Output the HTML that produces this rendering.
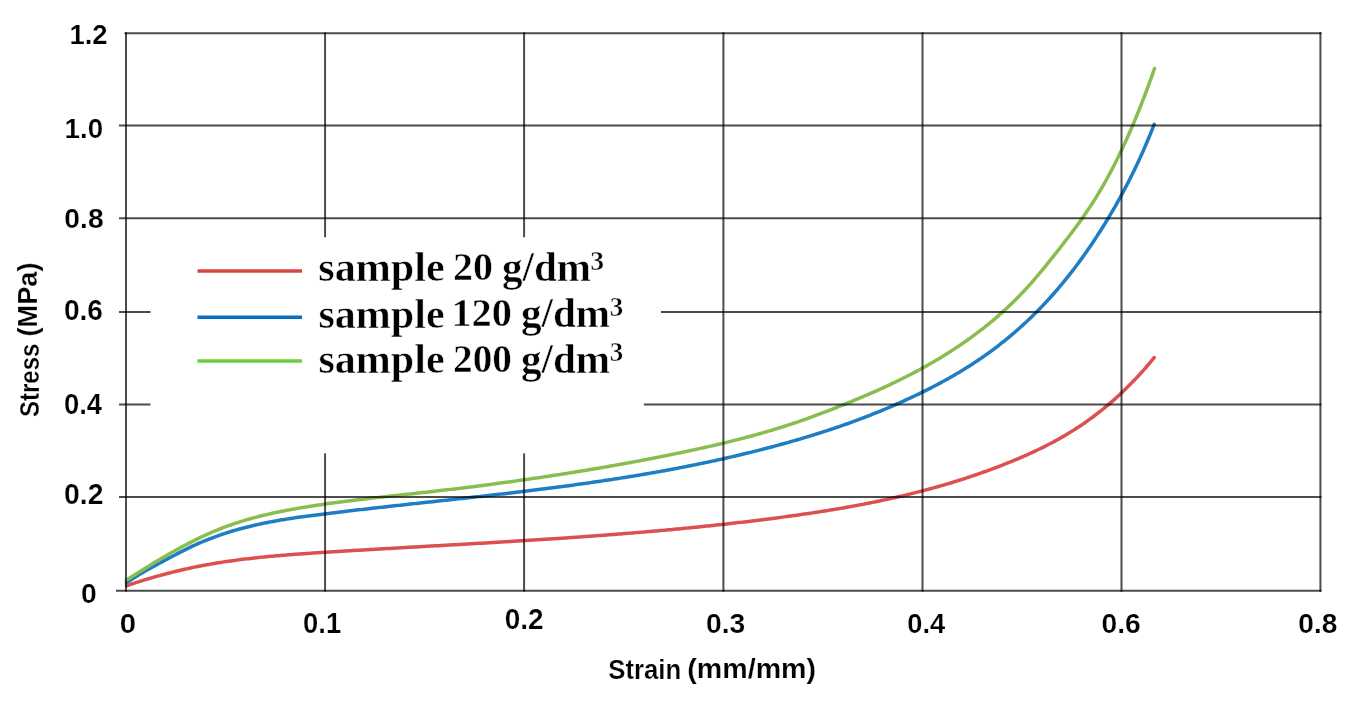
<!DOCTYPE html>
<html><head><meta charset="utf-8"><style>
html,body{margin:0;padding:0;background:#fff;width:1371px;height:701px;overflow:hidden}
svg{display:block}
</style></head><body>
<svg width="1371" height="701" viewBox="0 0 1371 701">
<rect width="1371" height="701" fill="#fff"/>
<g>
<g fill="none" stroke-width="3.5" stroke-linecap="round" stroke-linejoin="round">
<path d="M126.5,585.75 L128.5,585.07 L130.5,584.41 L132.5,583.75 L134.5,583.10 L136.5,582.45 L138.5,581.82 L140.5,581.19 L142.5,580.57 L144.5,579.95 L146.5,579.35 L148.5,578.75 L150.5,578.16 L152.5,577.57 L154.5,577.00 L156.5,576.43 L158.5,575.87 L160.5,575.32 L162.5,574.78 L164.5,574.24 L166.5,573.71 L168.5,573.19 L170.5,572.68 L172.5,572.17 L174.5,571.68 L176.5,571.19 L178.5,570.71 L180.5,570.23 L182.5,569.77 L184.5,569.31 L186.5,568.86 L188.5,568.42 L190.5,567.99 L192.5,567.57 L194.5,567.15 L196.5,566.74 L198.5,566.34 L200.5,565.95 L202.5,565.57 L204.5,565.19 L206.5,564.82 L208.5,564.46 L210.5,564.11 L212.5,563.76 L214.5,563.42 L216.5,563.09 L218.5,562.76 L220.5,562.45 L222.5,562.13 L224.5,561.83 L226.5,561.53 L228.5,561.24 L230.5,560.95 L232.5,560.67 L234.5,560.40 L236.5,560.13 L238.5,559.87 L240.5,559.61 L242.5,559.36 L244.5,559.11 L246.5,558.87 L248.5,558.64 L250.5,558.41 L252.5,558.18 L254.5,557.96 L256.5,557.74 L258.5,557.53 L260.5,557.32 L262.5,557.12 L264.5,556.92 L266.5,556.73 L268.5,556.54 L270.5,556.35 L272.5,556.17 L274.5,555.99 L276.5,555.81 L278.5,555.64 L280.5,555.47 L282.5,555.31 L284.5,555.14 L286.5,554.98 L288.5,554.83 L290.5,554.67 L292.5,554.52 L294.5,554.37 L296.5,554.22 L298.5,554.08 L300.5,553.93 L302.5,553.79 L304.5,553.65 L306.5,553.52 L308.5,553.38 L310.5,553.25 L312.5,553.11 L314.5,552.98 L316.5,552.85 L318.5,552.72 L320.5,552.59 L322.5,552.46 L324.5,552.34 L326.5,552.21 L328.5,552.09 L330.5,551.96 L332.5,551.83 L334.5,551.71 L336.5,551.59 L338.5,551.46 L340.5,551.34 L342.5,551.22 L344.5,551.09 L346.5,550.97 L348.5,550.85 L350.5,550.73 L352.5,550.61 L354.5,550.49 L356.5,550.37 L358.5,550.25 L360.5,550.13 L362.5,550.01 L364.5,549.89 L366.5,549.77 L368.5,549.66 L370.5,549.54 L372.5,549.42 L374.5,549.30 L376.5,549.19 L378.5,549.07 L380.5,548.95 L382.5,548.84 L384.5,548.72 L386.5,548.61 L388.5,548.49 L390.5,548.38 L392.5,548.26 L394.5,548.15 L396.5,548.03 L398.5,547.92 L400.5,547.80 L402.5,547.69 L404.5,547.57 L406.5,547.46 L408.5,547.35 L410.5,547.23 L412.5,547.12 L414.5,547.01 L416.5,546.89 L418.5,546.78 L420.5,546.67 L422.5,546.55 L424.5,546.44 L426.5,546.33 L428.5,546.21 L430.5,546.10 L432.5,545.99 L434.5,545.87 L436.5,545.76 L438.5,545.65 L440.5,545.53 L442.5,545.42 L444.5,545.31 L446.5,545.19 L448.5,545.08 L450.5,544.97 L452.5,544.85 L454.5,544.74 L456.5,544.63 L458.5,544.51 L460.5,544.40 L462.5,544.28 L464.5,544.17 L466.5,544.05 L468.5,543.94 L470.5,543.82 L472.5,543.71 L474.5,543.59 L476.5,543.48 L478.5,543.36 L480.5,543.24 L482.5,543.13 L484.5,543.01 L486.5,542.89 L488.5,542.78 L490.5,542.66 L492.5,542.54 L494.5,542.42 L496.5,542.31 L498.5,542.19 L500.5,542.07 L502.5,541.95 L504.5,541.83 L506.5,541.71 L508.5,541.59 L510.5,541.47 L512.5,541.34 L514.5,541.22 L516.5,541.10 L518.5,540.98 L520.5,540.85 L522.5,540.73 L524.5,540.61 L526.5,540.48 L528.5,540.36 L530.5,540.23 L532.5,540.11 L534.5,539.98 L536.5,539.85 L538.5,539.73 L540.5,539.60 L542.5,539.47 L544.5,539.34 L546.5,539.21 L548.5,539.08 L550.5,538.95 L552.5,538.82 L554.5,538.68 L556.5,538.55 L558.5,538.42 L560.5,538.28 L562.5,538.15 L564.5,538.02 L566.5,537.88 L568.5,537.74 L570.5,537.61 L572.5,537.47 L574.5,537.33 L576.5,537.19 L578.5,537.05 L580.5,536.91 L582.5,536.77 L584.5,536.62 L586.5,536.48 L588.5,536.34 L590.5,536.19 L592.5,536.05 L594.5,535.90 L596.5,535.75 L598.5,535.60 L600.5,535.46 L602.5,535.31 L604.5,535.16 L606.5,535.00 L608.5,534.85 L610.5,534.70 L612.5,534.55 L614.5,534.39 L616.5,534.23 L618.5,534.08 L620.5,533.92 L622.5,533.76 L624.5,533.60 L626.5,533.44 L628.5,533.28 L630.5,533.12 L632.5,532.95 L634.5,532.79 L636.5,532.62 L638.5,532.46 L640.5,532.29 L642.5,532.12 L644.5,531.95 L646.5,531.78 L648.5,531.61 L650.5,531.43 L652.5,531.26 L654.5,531.09 L656.5,530.91 L658.5,530.73 L660.5,530.55 L662.5,530.37 L664.5,530.19 L666.5,530.01 L668.5,529.83 L670.5,529.64 L672.5,529.46 L674.5,529.27 L676.5,529.08 L678.5,528.89 L680.5,528.70 L682.5,528.51 L684.5,528.32 L686.5,528.13 L688.5,527.93 L690.5,527.73 L692.5,527.53 L694.5,527.34 L696.5,527.14 L698.5,526.93 L700.5,526.73 L702.5,526.53 L704.5,526.32 L706.5,526.11 L708.5,525.90 L710.5,525.69 L712.5,525.48 L714.5,525.27 L716.5,525.05 L718.5,524.84 L720.5,524.62 L722.5,524.40 L724.5,524.18 L726.5,523.96 L728.5,523.74 L730.5,523.51 L732.5,523.29 L734.5,523.06 L736.5,522.83 L738.5,522.60 L740.5,522.37 L742.5,522.14 L744.5,521.90 L746.5,521.66 L748.5,521.43 L750.5,521.19 L752.5,520.94 L754.5,520.70 L756.5,520.46 L758.5,520.21 L760.5,519.96 L762.5,519.71 L764.5,519.46 L766.5,519.21 L768.5,518.96 L770.5,518.70 L772.5,518.44 L774.5,518.18 L776.5,517.92 L778.5,517.66 L780.5,517.39 L782.5,517.13 L784.5,516.86 L786.5,516.59 L788.5,516.32 L790.5,516.04 L792.5,515.76 L794.5,515.49 L796.5,515.20 L798.5,514.92 L800.5,514.64 L802.5,514.35 L804.5,514.06 L806.5,513.76 L808.5,513.47 L810.5,513.17 L812.5,512.87 L814.5,512.57 L816.5,512.26 L818.5,511.95 L820.5,511.64 L822.5,511.33 L824.5,511.01 L826.5,510.69 L828.5,510.37 L830.5,510.04 L832.5,509.71 L834.5,509.38 L836.5,509.04 L838.5,508.71 L840.5,508.36 L842.5,508.02 L844.5,507.67 L846.5,507.32 L848.5,506.96 L850.5,506.60 L852.5,506.24 L854.5,505.87 L856.5,505.50 L858.5,505.13 L860.5,504.75 L862.5,504.37 L864.5,503.98 L866.5,503.59 L868.5,503.20 L870.5,502.80 L872.5,502.40 L874.5,501.99 L876.5,501.58 L878.5,501.17 L880.5,500.75 L882.5,500.32 L884.5,499.90 L886.5,499.46 L888.5,499.03 L890.5,498.59 L892.5,498.14 L894.5,497.69 L896.5,497.23 L898.5,496.77 L900.5,496.31 L902.5,495.84 L904.5,495.36 L906.5,494.88 L908.5,494.40 L910.5,493.91 L912.5,493.41 L914.5,492.91 L916.5,492.41 L918.5,491.90 L920.5,491.38 L922.5,490.86 L924.5,490.33 L926.5,489.80 L928.5,489.26 L930.5,488.72 L932.5,488.17 L934.5,487.62 L936.5,487.06 L938.5,486.49 L940.5,485.92 L942.5,485.34 L944.5,484.76 L946.5,484.17 L948.5,483.57 L950.5,482.97 L952.5,482.36 L954.5,481.75 L956.5,481.13 L958.5,480.50 L960.5,479.87 L962.5,479.23 L964.5,478.58 L966.5,477.93 L968.5,477.27 L970.5,476.60 L972.5,475.93 L974.5,475.25 L976.5,474.57 L978.5,473.88 L980.5,473.18 L982.5,472.47 L984.5,471.76 L986.5,471.04 L988.5,470.31 L990.5,469.58 L992.5,468.83 L994.5,468.09 L996.5,467.33 L998.5,466.57 L1000.5,465.80 L1002.5,465.02 L1004.5,464.23 L1006.5,463.44 L1008.5,462.64 L1010.5,461.83 L1012.5,461.02 L1014.5,460.19 L1016.5,459.36 L1018.5,458.52 L1020.5,457.67 L1022.5,456.81 L1024.5,455.94 L1026.5,455.06 L1028.5,454.16 L1030.5,453.26 L1032.5,452.34 L1034.5,451.41 L1036.5,450.47 L1038.5,449.52 L1040.5,448.55 L1042.5,447.57 L1044.5,446.57 L1046.5,445.56 L1048.5,444.53 L1050.5,443.49 L1052.5,442.43 L1054.5,441.36 L1056.5,440.27 L1058.5,439.16 L1060.5,438.03 L1062.5,436.88 L1064.5,435.72 L1066.5,434.54 L1068.5,433.33 L1070.5,432.11 L1072.5,430.87 L1074.5,429.61 L1076.5,428.32 L1078.5,427.01 L1080.5,425.69 L1082.5,424.33 L1084.5,422.96 L1086.5,421.56 L1088.5,420.14 L1090.5,418.70 L1092.5,417.23 L1094.5,415.73 L1096.5,414.22 L1098.5,412.67 L1100.5,411.10 L1102.5,409.50 L1104.5,407.87 L1106.5,406.22 L1108.5,404.54 L1110.5,402.83 L1112.5,401.09 L1114.5,399.33 L1116.5,397.53 L1118.5,395.71 L1120.5,393.85 L1122.5,391.96 L1124.5,390.04 L1126.5,388.09 L1128.5,386.11 L1130.5,384.09 L1132.5,382.05 L1134.5,379.96 L1136.5,377.85 L1138.5,375.70 L1140.5,373.52 L1142.5,371.30 L1144.5,369.04 L1146.5,366.75 L1148.5,364.43 L1150.5,362.06 L1152.5,359.66 L1154.2,357.59" stroke="#dc5050"/>
<path d="M126.5,582.67 L128.5,581.31 L130.5,579.98 L132.5,578.69 L134.5,577.43 L136.5,576.19 L138.5,574.98 L140.5,573.79 L142.5,572.62 L144.5,571.47 L146.5,570.34 L148.5,569.22 L150.5,568.12 L152.5,567.02 L154.5,565.93 L156.5,564.85 L158.5,563.77 L160.5,562.69 L162.5,561.61 L164.5,560.54 L166.5,559.46 L168.5,558.39 L170.5,557.32 L172.5,556.26 L174.5,555.21 L176.5,554.16 L178.5,553.12 L180.5,552.09 L182.5,551.07 L184.5,550.07 L186.5,549.08 L188.5,548.10 L190.5,547.14 L192.5,546.19 L194.5,545.27 L196.5,544.36 L198.5,543.47 L200.5,542.60 L202.5,541.75 L204.5,540.92 L206.5,540.11 L208.5,539.31 L210.5,538.53 L212.5,537.77 L214.5,537.02 L216.5,536.29 L218.5,535.58 L220.5,534.89 L222.5,534.21 L224.5,533.54 L226.5,532.89 L228.5,532.26 L230.5,531.64 L232.5,531.03 L234.5,530.44 L236.5,529.87 L238.5,529.30 L240.5,528.75 L242.5,528.21 L244.5,527.69 L246.5,527.18 L248.5,526.68 L250.5,526.19 L252.5,525.71 L254.5,525.25 L256.5,524.79 L258.5,524.35 L260.5,523.92 L262.5,523.49 L264.5,523.08 L266.5,522.68 L268.5,522.28 L270.5,521.90 L272.5,521.52 L274.5,521.16 L276.5,520.80 L278.5,520.44 L280.5,520.10 L282.5,519.76 L284.5,519.43 L286.5,519.11 L288.5,518.80 L290.5,518.49 L292.5,518.18 L294.5,517.88 L296.5,517.59 L298.5,517.30 L300.5,517.02 L302.5,516.74 L304.5,516.47 L306.5,516.20 L308.5,515.93 L310.5,515.67 L312.5,515.41 L314.5,515.15 L316.5,514.90 L318.5,514.65 L320.5,514.40 L322.5,514.15 L324.5,513.90 L326.5,513.66 L328.5,513.41 L330.5,513.17 L332.5,512.93 L334.5,512.68 L336.5,512.44 L338.5,512.20 L340.5,511.97 L342.5,511.73 L344.5,511.49 L346.5,511.26 L348.5,511.02 L350.5,510.79 L352.5,510.55 L354.5,510.32 L356.5,510.09 L358.5,509.86 L360.5,509.63 L362.5,509.40 L364.5,509.17 L366.5,508.94 L368.5,508.72 L370.5,508.49 L372.5,508.26 L374.5,508.04 L376.5,507.81 L378.5,507.59 L380.5,507.37 L382.5,507.14 L384.5,506.92 L386.5,506.70 L388.5,506.48 L390.5,506.26 L392.5,506.03 L394.5,505.81 L396.5,505.59 L398.5,505.37 L400.5,505.16 L402.5,504.94 L404.5,504.72 L406.5,504.50 L408.5,504.28 L410.5,504.06 L412.5,503.84 L414.5,503.63 L416.5,503.41 L418.5,503.19 L420.5,502.97 L422.5,502.76 L424.5,502.54 L426.5,502.32 L428.5,502.10 L430.5,501.89 L432.5,501.67 L434.5,501.45 L436.5,501.24 L438.5,501.02 L440.5,500.80 L442.5,500.58 L444.5,500.37 L446.5,500.15 L448.5,499.93 L450.5,499.71 L452.5,499.49 L454.5,499.27 L456.5,499.05 L458.5,498.84 L460.5,498.62 L462.5,498.40 L464.5,498.18 L466.5,497.95 L468.5,497.73 L470.5,497.51 L472.5,497.29 L474.5,497.07 L476.5,496.84 L478.5,496.62 L480.5,496.40 L482.5,496.17 L484.5,495.95 L486.5,495.72 L488.5,495.49 L490.5,495.27 L492.5,495.04 L494.5,494.81 L496.5,494.58 L498.5,494.35 L500.5,494.12 L502.5,493.89 L504.5,493.66 L506.5,493.43 L508.5,493.19 L510.5,492.96 L512.5,492.72 L514.5,492.49 L516.5,492.25 L518.5,492.01 L520.5,491.77 L522.5,491.53 L524.5,491.29 L526.5,491.05 L528.5,490.80 L530.5,490.56 L532.5,490.32 L534.5,490.07 L536.5,489.82 L538.5,489.57 L540.5,489.32 L542.5,489.07 L544.5,488.82 L546.5,488.57 L548.5,488.31 L550.5,488.05 L552.5,487.80 L554.5,487.54 L556.5,487.28 L558.5,487.02 L560.5,486.75 L562.5,486.49 L564.5,486.23 L566.5,485.96 L568.5,485.69 L570.5,485.42 L572.5,485.15 L574.5,484.88 L576.5,484.60 L578.5,484.32 L580.5,484.05 L582.5,483.77 L584.5,483.49 L586.5,483.20 L588.5,482.92 L590.5,482.63 L592.5,482.35 L594.5,482.06 L596.5,481.76 L598.5,481.47 L600.5,481.18 L602.5,480.88 L604.5,480.58 L606.5,480.28 L608.5,479.98 L610.5,479.67 L612.5,479.37 L614.5,479.06 L616.5,478.75 L618.5,478.44 L620.5,478.12 L622.5,477.81 L624.5,477.49 L626.5,477.17 L628.5,476.85 L630.5,476.52 L632.5,476.19 L634.5,475.87 L636.5,475.53 L638.5,475.20 L640.5,474.87 L642.5,474.53 L644.5,474.19 L646.5,473.85 L648.5,473.50 L650.5,473.15 L652.5,472.80 L654.5,472.45 L656.5,472.10 L658.5,471.74 L660.5,471.38 L662.5,471.02 L664.5,470.66 L666.5,470.29 L668.5,469.92 L670.5,469.55 L672.5,469.18 L674.5,468.80 L676.5,468.42 L678.5,468.04 L680.5,467.65 L682.5,467.26 L684.5,466.87 L686.5,466.48 L688.5,466.09 L690.5,465.69 L692.5,465.29 L694.5,464.88 L696.5,464.48 L698.5,464.07 L700.5,463.65 L702.5,463.24 L704.5,462.82 L706.5,462.40 L708.5,461.97 L710.5,461.55 L712.5,461.12 L714.5,460.68 L716.5,460.25 L718.5,459.81 L720.5,459.36 L722.5,458.92 L724.5,458.47 L726.5,458.02 L728.5,457.56 L730.5,457.11 L732.5,456.64 L734.5,456.18 L736.5,455.71 L738.5,455.24 L740.5,454.77 L742.5,454.29 L744.5,453.81 L746.5,453.32 L748.5,452.83 L750.5,452.34 L752.5,451.85 L754.5,451.35 L756.5,450.85 L758.5,450.34 L760.5,449.83 L762.5,449.32 L764.5,448.81 L766.5,448.29 L768.5,447.76 L770.5,447.24 L772.5,446.71 L774.5,446.17 L776.5,445.63 L778.5,445.09 L780.5,444.55 L782.5,444.00 L784.5,443.45 L786.5,442.89 L788.5,442.33 L790.5,441.76 L792.5,441.19 L794.5,440.62 L796.5,440.04 L798.5,439.46 L800.5,438.87 L802.5,438.28 L804.5,437.69 L806.5,437.08 L808.5,436.48 L810.5,435.87 L812.5,435.25 L814.5,434.63 L816.5,434.01 L818.5,433.38 L820.5,432.75 L822.5,432.11 L824.5,431.46 L826.5,430.81 L828.5,430.15 L830.5,429.49 L832.5,428.83 L834.5,428.15 L836.5,427.48 L838.5,426.79 L840.5,426.10 L842.5,425.41 L844.5,424.71 L846.5,424.00 L848.5,423.29 L850.5,422.57 L852.5,421.84 L854.5,421.11 L856.5,420.37 L858.5,419.63 L860.5,418.88 L862.5,418.12 L864.5,417.36 L866.5,416.59 L868.5,415.81 L870.5,415.03 L872.5,414.24 L874.5,413.44 L876.5,412.64 L878.5,411.83 L880.5,411.01 L882.5,410.18 L884.5,409.35 L886.5,408.51 L888.5,407.67 L890.5,406.81 L892.5,405.95 L894.5,405.08 L896.5,404.20 L898.5,403.32 L900.5,402.43 L902.5,401.53 L904.5,400.62 L906.5,399.71 L908.5,398.78 L910.5,397.85 L912.5,396.91 L914.5,395.97 L916.5,395.01 L918.5,394.05 L920.5,393.07 L922.5,392.09 L924.5,391.10 L926.5,390.11 L928.5,389.10 L930.5,388.08 L932.5,387.06 L934.5,386.02 L936.5,384.97 L938.5,383.92 L940.5,382.85 L942.5,381.77 L944.5,380.67 L946.5,379.57 L948.5,378.45 L950.5,377.33 L952.5,376.18 L954.5,375.03 L956.5,373.86 L958.5,372.67 L960.5,371.48 L962.5,370.26 L964.5,369.04 L966.5,367.79 L968.5,366.53 L970.5,365.26 L972.5,363.97 L974.5,362.66 L976.5,361.33 L978.5,359.99 L980.5,358.63 L982.5,357.25 L984.5,355.86 L986.5,354.44 L988.5,353.01 L990.5,351.55 L992.5,350.08 L994.5,348.59 L996.5,347.07 L998.5,345.54 L1000.5,343.98 L1002.5,342.41 L1004.5,340.81 L1006.5,339.19 L1008.5,337.55 L1010.5,335.88 L1012.5,334.19 L1014.5,332.48 L1016.5,330.74 L1018.5,328.98 L1020.5,327.20 L1022.5,325.39 L1024.5,323.56 L1026.5,321.70 L1028.5,319.81 L1030.5,317.90 L1032.5,315.96 L1034.5,314.00 L1036.5,312.00 L1038.5,309.98 L1040.5,307.93 L1042.5,305.85 L1044.5,303.74 L1046.5,301.60 L1048.5,299.43 L1050.5,297.22 L1052.5,294.99 L1054.5,292.72 L1056.5,290.42 L1058.5,288.09 L1060.5,285.73 L1062.5,283.33 L1064.5,280.89 L1066.5,278.43 L1068.5,275.92 L1070.5,273.38 L1072.5,270.81 L1074.5,268.20 L1076.5,265.55 L1078.5,262.86 L1080.5,260.13 L1082.5,257.37 L1084.5,254.57 L1086.5,251.73 L1088.5,248.84 L1090.5,245.92 L1092.5,242.96 L1094.5,239.95 L1096.5,236.91 L1098.5,233.82 L1100.5,230.69 L1102.5,227.52 L1104.5,224.30 L1106.5,221.04 L1108.5,217.73 L1110.5,214.38 L1112.5,210.98 L1114.5,207.53 L1116.5,204.03 L1118.5,200.48 L1120.5,196.86 L1122.5,193.19 L1124.5,189.45 L1126.5,185.65 L1128.5,181.77 L1130.5,177.82 L1132.5,173.80 L1134.5,169.69 L1136.5,165.51 L1138.5,161.23 L1140.5,156.88 L1142.5,152.43 L1144.5,147.88 L1146.5,143.24 L1148.5,138.50 L1150.5,133.66 L1152.5,128.71 L1154.2,124.42" stroke="#1e7dc3"/>
<path d="M126.5,580.07 L128.5,578.79 L130.5,577.51 L132.5,576.24 L134.5,574.97 L136.5,573.71 L138.5,572.44 L140.5,571.19 L142.5,569.94 L144.5,568.70 L146.5,567.46 L148.5,566.23 L150.5,565.00 L152.5,563.78 L154.5,562.57 L156.5,561.37 L158.5,560.17 L160.5,558.99 L162.5,557.81 L164.5,556.64 L166.5,555.48 L168.5,554.33 L170.5,553.18 L172.5,552.05 L174.5,550.93 L176.5,549.82 L178.5,548.72 L180.5,547.63 L182.5,546.56 L184.5,545.49 L186.5,544.44 L188.5,543.40 L190.5,542.37 L192.5,541.36 L194.5,540.36 L196.5,539.37 L198.5,538.40 L200.5,537.44 L202.5,536.50 L204.5,535.57 L206.5,534.66 L208.5,533.76 L210.5,532.88 L212.5,532.01 L214.5,531.17 L216.5,530.33 L218.5,529.52 L220.5,528.72 L222.5,527.94 L224.5,527.18 L226.5,526.44 L228.5,525.71 L230.5,525.00 L232.5,524.30 L234.5,523.62 L236.5,522.95 L238.5,522.30 L240.5,521.67 L242.5,521.05 L244.5,520.44 L246.5,519.85 L248.5,519.27 L250.5,518.71 L252.5,518.15 L254.5,517.61 L256.5,517.08 L258.5,516.57 L260.5,516.06 L262.5,515.57 L264.5,515.08 L266.5,514.61 L268.5,514.15 L270.5,513.70 L272.5,513.26 L274.5,512.82 L276.5,512.40 L278.5,511.98 L280.5,511.58 L282.5,511.18 L284.5,510.78 L286.5,510.40 L288.5,510.02 L290.5,509.65 L292.5,509.29 L294.5,508.93 L296.5,508.58 L298.5,508.23 L300.5,507.89 L302.5,507.55 L304.5,507.22 L306.5,506.89 L308.5,506.57 L310.5,506.25 L312.5,505.94 L314.5,505.63 L316.5,505.32 L318.5,505.02 L320.5,504.72 L322.5,504.43 L324.5,504.14 L326.5,503.85 L328.5,503.57 L330.5,503.29 L332.5,503.02 L334.5,502.74 L336.5,502.47 L338.5,502.21 L340.5,501.95 L342.5,501.69 L344.5,501.43 L346.5,501.17 L348.5,500.92 L350.5,500.67 L352.5,500.43 L354.5,500.18 L356.5,499.94 L358.5,499.70 L360.5,499.46 L362.5,499.22 L364.5,498.99 L366.5,498.76 L368.5,498.53 L370.5,498.30 L372.5,498.07 L374.5,497.85 L376.5,497.62 L378.5,497.40 L380.5,497.17 L382.5,496.95 L384.5,496.73 L386.5,496.51 L388.5,496.29 L390.5,496.08 L392.5,495.86 L394.5,495.64 L396.5,495.42 L398.5,495.21 L400.5,494.99 L402.5,494.77 L404.5,494.56 L406.5,494.34 L408.5,494.12 L410.5,493.91 L412.5,493.69 L414.5,493.47 L416.5,493.25 L418.5,493.03 L420.5,492.81 L422.5,492.59 L424.5,492.37 L426.5,492.15 L428.5,491.92 L430.5,491.70 L432.5,491.47 L434.5,491.24 L436.5,491.01 L438.5,490.78 L440.5,490.55 L442.5,490.32 L444.5,490.09 L446.5,489.85 L448.5,489.62 L450.5,489.38 L452.5,489.14 L454.5,488.91 L456.5,488.66 L458.5,488.42 L460.5,488.18 L462.5,487.94 L464.5,487.69 L466.5,487.45 L468.5,487.20 L470.5,486.95 L472.5,486.70 L474.5,486.45 L476.5,486.19 L478.5,485.94 L480.5,485.69 L482.5,485.43 L484.5,485.17 L486.5,484.91 L488.5,484.65 L490.5,484.39 L492.5,484.13 L494.5,483.86 L496.5,483.60 L498.5,483.33 L500.5,483.06 L502.5,482.79 L504.5,482.52 L506.5,482.25 L508.5,481.98 L510.5,481.70 L512.5,481.43 L514.5,481.15 L516.5,480.87 L518.5,480.59 L520.5,480.31 L522.5,480.02 L524.5,479.74 L526.5,479.45 L528.5,479.17 L530.5,478.88 L532.5,478.59 L534.5,478.30 L536.5,478.00 L538.5,477.71 L540.5,477.41 L542.5,477.11 L544.5,476.81 L546.5,476.51 L548.5,476.21 L550.5,475.91 L552.5,475.60 L554.5,475.30 L556.5,474.99 L558.5,474.68 L560.5,474.37 L562.5,474.06 L564.5,473.74 L566.5,473.43 L568.5,473.11 L570.5,472.79 L572.5,472.47 L574.5,472.15 L576.5,471.82 L578.5,471.50 L580.5,471.17 L582.5,470.84 L584.5,470.51 L586.5,470.18 L588.5,469.85 L590.5,469.51 L592.5,469.18 L594.5,468.84 L596.5,468.50 L598.5,468.16 L600.5,467.82 L602.5,467.47 L604.5,467.13 L606.5,466.78 L608.5,466.43 L610.5,466.08 L612.5,465.72 L614.5,465.37 L616.5,465.01 L618.5,464.65 L620.5,464.29 L622.5,463.93 L624.5,463.57 L626.5,463.20 L628.5,462.84 L630.5,462.47 L632.5,462.10 L634.5,461.73 L636.5,461.35 L638.5,460.98 L640.5,460.60 L642.5,460.22 L644.5,459.84 L646.5,459.46 L648.5,459.07 L650.5,458.69 L652.5,458.30 L654.5,457.91 L656.5,457.52 L658.5,457.12 L660.5,456.73 L662.5,456.33 L664.5,455.93 L666.5,455.53 L668.5,455.13 L670.5,454.72 L672.5,454.32 L674.5,453.91 L676.5,453.50 L678.5,453.09 L680.5,452.67 L682.5,452.25 L684.5,451.84 L686.5,451.41 L688.5,450.99 L690.5,450.56 L692.5,450.14 L694.5,449.71 L696.5,449.27 L698.5,448.84 L700.5,448.40 L702.5,447.95 L704.5,447.51 L706.5,447.06 L708.5,446.61 L710.5,446.15 L712.5,445.69 L714.5,445.23 L716.5,444.77 L718.5,444.30 L720.5,443.83 L722.5,443.35 L724.5,442.87 L726.5,442.38 L728.5,441.90 L730.5,441.40 L732.5,440.91 L734.5,440.41 L736.5,439.90 L738.5,439.39 L740.5,438.88 L742.5,438.36 L744.5,437.83 L746.5,437.31 L748.5,436.77 L750.5,436.24 L752.5,435.69 L754.5,435.14 L756.5,434.59 L758.5,434.03 L760.5,433.47 L762.5,432.90 L764.5,432.32 L766.5,431.74 L768.5,431.16 L770.5,430.57 L772.5,429.97 L774.5,429.36 L776.5,428.75 L778.5,428.14 L780.5,427.52 L782.5,426.89 L784.5,426.25 L786.5,425.61 L788.5,424.96 L790.5,424.31 L792.5,423.65 L794.5,422.98 L796.5,422.31 L798.5,421.63 L800.5,420.94 L802.5,420.24 L804.5,419.54 L806.5,418.83 L808.5,418.11 L810.5,417.39 L812.5,416.66 L814.5,415.93 L816.5,415.19 L818.5,414.44 L820.5,413.69 L822.5,412.94 L824.5,412.17 L826.5,411.41 L828.5,410.63 L830.5,409.86 L832.5,409.08 L834.5,408.29 L836.5,407.50 L838.5,406.71 L840.5,405.91 L842.5,405.11 L844.5,404.30 L846.5,403.49 L848.5,402.68 L850.5,401.86 L852.5,401.04 L854.5,400.22 L856.5,399.39 L858.5,398.55 L860.5,397.71 L862.5,396.86 L864.5,396.01 L866.5,395.16 L868.5,394.30 L870.5,393.43 L872.5,392.55 L874.5,391.67 L876.5,390.78 L878.5,389.89 L880.5,388.99 L882.5,388.08 L884.5,387.16 L886.5,386.24 L888.5,385.31 L890.5,384.37 L892.5,383.42 L894.5,382.46 L896.5,381.50 L898.5,380.52 L900.5,379.54 L902.5,378.55 L904.5,377.55 L906.5,376.54 L908.5,375.51 L910.5,374.48 L912.5,373.44 L914.5,372.39 L916.5,371.33 L918.5,370.25 L920.5,369.17 L922.5,368.07 L924.5,366.97 L926.5,365.85 L928.5,364.72 L930.5,363.57 L932.5,362.42 L934.5,361.25 L936.5,360.07 L938.5,358.88 L940.5,357.67 L942.5,356.45 L944.5,355.22 L946.5,353.97 L948.5,352.71 L950.5,351.44 L952.5,350.15 L954.5,348.84 L956.5,347.52 L958.5,346.19 L960.5,344.84 L962.5,343.48 L964.5,342.10 L966.5,340.70 L968.5,339.29 L970.5,337.86 L972.5,336.41 L974.5,334.94 L976.5,333.46 L978.5,331.95 L980.5,330.42 L982.5,328.87 L984.5,327.30 L986.5,325.71 L988.5,324.09 L990.5,322.45 L992.5,320.79 L994.5,319.10 L996.5,317.39 L998.5,315.65 L1000.5,313.88 L1002.5,312.09 L1004.5,310.27 L1006.5,308.42 L1008.5,306.54 L1010.5,304.64 L1012.5,302.70 L1014.5,300.73 L1016.5,298.74 L1018.5,296.71 L1020.5,294.65 L1022.5,292.55 L1024.5,290.43 L1026.5,288.27 L1028.5,286.07 L1030.5,283.84 L1032.5,281.57 L1034.5,279.28 L1036.5,276.95 L1038.5,274.59 L1040.5,272.20 L1042.5,269.79 L1044.5,267.36 L1046.5,264.90 L1048.5,262.42 L1050.5,259.93 L1052.5,257.42 L1054.5,254.90 L1056.5,252.37 L1058.5,249.82 L1060.5,247.27 L1062.5,244.71 L1064.5,242.14 L1066.5,239.55 L1068.5,236.94 L1070.5,234.31 L1072.5,231.66 L1074.5,228.97 L1076.5,226.26 L1078.5,223.51 L1080.5,220.72 L1082.5,217.89 L1084.5,215.02 L1086.5,212.09 L1088.5,209.12 L1090.5,206.09 L1092.5,203.00 L1094.5,199.85 L1096.5,196.64 L1098.5,193.35 L1100.5,190.00 L1102.5,186.58 L1104.5,183.08 L1106.5,179.51 L1108.5,175.87 L1110.5,172.15 L1112.5,168.35 L1114.5,164.47 L1116.5,160.52 L1118.5,156.48 L1120.5,152.36 L1122.5,148.15 L1124.5,143.87 L1126.5,139.49 L1128.5,135.03 L1130.5,130.48 L1132.5,125.83 L1134.5,121.10 L1136.5,116.27 L1138.5,111.36 L1140.5,106.34 L1142.5,101.23 L1144.5,96.02 L1146.5,90.72 L1148.5,85.31 L1150.5,79.80 L1152.5,74.19 L1154.5,68.47" stroke="#8abd50"/>
</g>
<g stroke="#000" stroke-opacity="0.7" stroke-width="2.0" fill="none">
<line x1="116" y1="590.80" x2="1321.42" y2="590.80"/>
<line x1="119" y1="496.90" x2="1321.42" y2="496.90"/>
<line x1="119" y1="404.47" x2="1321.42" y2="404.47"/>
<line x1="119" y1="311.93" x2="1321.42" y2="311.93"/>
<line x1="119" y1="218.25" x2="1321.42" y2="218.25"/>
<line x1="119" y1="125.56" x2="1321.42" y2="125.56"/>
<line x1="124.5" y1="33.34" x2="1321.42" y2="33.34"/>
<line x1="126.00" y1="32.34" x2="126.00" y2="591.80"/>
<line x1="325.08" y1="32.34" x2="325.08" y2="591.80"/>
<line x1="524.08" y1="32.34" x2="524.08" y2="591.80"/>
<line x1="723.40" y1="32.34" x2="723.40" y2="591.80"/>
<line x1="922.50" y1="32.34" x2="922.50" y2="591.80"/>
<line x1="1121.50" y1="32.34" x2="1121.50" y2="591.80"/>
<line x1="1320.42" y1="32.34" x2="1320.42" y2="591.80"/>
</g>
<!-- legend background -->
<rect x="150.5" y="237.3" width="493.3" height="216.1" fill="#fff"/>
<rect x="643" y="300" width="18" height="20" fill="#fff"/>
<g stroke-width="3.6">
<line x1="197.5" y1="271" x2="302" y2="271" stroke="#d84643"/>
<line x1="197.5" y1="317.2" x2="302" y2="317.2" stroke="#0870c4"/>
<line x1="197.5" y1="361" x2="302" y2="361" stroke="#6ccf40"/>
</g>
<g fill="#000" opacity="0.999">
<text transform="matrix(0.27442 0 0 0.28000 69.453 43.800)" font-family='"Liberation Sans", sans-serif' font-weight="bold" font-size="100" stroke="#fff" stroke-width="0.73" stroke-linejoin="round">1.2</text>
<text transform="matrix(0.27752 0 0 0.28310 64.535 137.517)" font-family='"Liberation Sans", sans-serif' font-weight="bold" font-size="100" stroke="#fff" stroke-width="0.72" stroke-linejoin="round">1.0</text>
<text transform="matrix(0.28258 0 0 0.28310 64.370 228.017)" font-family='"Liberation Sans", sans-serif' font-weight="bold" font-size="100" stroke="#fff" stroke-width="0.71" stroke-linejoin="round">0.8</text>
<text transform="matrix(0.28092 0 0 0.29296 63.876 319.707)" font-family='"Liberation Sans", sans-serif' font-weight="bold" font-size="100" stroke="#fff" stroke-width="0.71" stroke-linejoin="round">0.6</text>
<text transform="matrix(0.27407 0 0 0.29296 63.904 413.707)" font-family='"Liberation Sans", sans-serif' font-weight="bold" font-size="100" stroke="#fff" stroke-width="0.73" stroke-linejoin="round">0.4</text>
<text transform="matrix(0.28321 0 0 0.29577 64.067 503.904)" font-family='"Liberation Sans", sans-serif' font-weight="bold" font-size="100" stroke="#fff" stroke-width="0.71" stroke-linejoin="round">0.2</text>
<text transform="matrix(0.28298 0 0 0.28169 80.968 603.418)" font-family='"Liberation Sans", sans-serif' font-weight="bold" font-size="100" stroke="#fff" stroke-width="0.71" stroke-linejoin="round">0</text>
<text transform="matrix(0.29362 0 0 0.28310 119.726 633.017)" font-family='"Liberation Sans", sans-serif' font-weight="bold" font-size="100" stroke="#fff" stroke-width="0.68" stroke-linejoin="round">0</text>
<text transform="matrix(0.27348 0 0 0.28592 303.106 632.914)" font-family='"Liberation Sans", sans-serif' font-weight="bold" font-size="100" stroke="#fff" stroke-width="0.73" stroke-linejoin="round">0.1</text>
<text transform="matrix(0.27939 0 0 0.28592 504.782 628.914)" font-family='"Liberation Sans", sans-serif' font-weight="bold" font-size="100" stroke="#fff" stroke-width="0.72" stroke-linejoin="round">0.2</text>
<text transform="matrix(0.28244 0 0 0.28310 706.070 632.717)" font-family='"Liberation Sans", sans-serif' font-weight="bold" font-size="100" stroke="#fff" stroke-width="0.71" stroke-linejoin="round">0.3</text>
<text transform="matrix(0.27333 0 0 0.28310 907.307 632.717)" font-family='"Liberation Sans", sans-serif' font-weight="bold" font-size="100" stroke="#fff" stroke-width="0.73" stroke-linejoin="round">0.4</text>
<text transform="matrix(0.28244 0 0 0.28451 1101.570 632.815)" font-family='"Liberation Sans", sans-serif' font-weight="bold" font-size="100" stroke="#fff" stroke-width="0.71" stroke-linejoin="round">0.6</text>
<text transform="matrix(0.28106 0 0 0.28451 1298.276 632.815)" font-family='"Liberation Sans", sans-serif' font-weight="bold" font-size="100" stroke="#fff" stroke-width="0.71" stroke-linejoin="round">0.8</text>
<text transform="matrix(0.25730 0 0 0.27973 608.328 678.720)" font-family='"Liberation Sans", sans-serif' font-weight="bold" font-size="100" stroke="#fff" stroke-width="0.78" stroke-linejoin="round">Strain</text>
<text transform="matrix(0.28636 0 0 0.28191 687.268 677.780)" font-family='"Liberation Sans", sans-serif' font-weight="bold" font-size="100" stroke="#fff" stroke-width="0.70" stroke-linejoin="round">(mm/mm)</text>
<text transform="matrix(0 -0.24047 0.28310 0 38.817 417.021)" font-family='"Liberation Sans", sans-serif' font-weight="bold" font-size="100" stroke="#fff" stroke-width="0.83" stroke-linejoin="round">Stress</text>
<text transform="matrix(0 -0.27214 0.27234 0 37.481 336.561)" font-family='"Liberation Sans", sans-serif' font-weight="bold" font-size="100" stroke="#fff" stroke-width="0.73" stroke-linejoin="round">(MPa)</text>
<text transform="matrix(0.42109 0 0 0.42556 318.287 281.213)" font-family='"Liberation Serif", serif' font-weight="bold" font-size="100" stroke="#fff" stroke-width="1.19" stroke-linejoin="round">sample</text>
<text transform="matrix(0.39891 0 0 0.40000 453.054 279.950)" font-family='"Liberation Serif", serif' font-weight="bold" font-size="100" stroke="#fff" stroke-width="1.25" stroke-linejoin="round">20</text>
<text transform="matrix(0.41085 0 0 0.42222 502.017 280.983)" font-family='"Liberation Serif", serif' font-weight="bold" font-size="100" stroke="#fff" stroke-width="1.22" stroke-linejoin="round">g/dm</text>
<text transform="matrix(0.27674 0 0 0.27612 590.143 269.798)" font-family='"Liberation Serif", serif' font-weight="bold" font-size="100" stroke="#fff" stroke-width="1.81" stroke-linejoin="round">3</text>
<text transform="matrix(0.42041 0 0 0.42556 318.489 327.513)" font-family='"Liberation Serif", serif' font-weight="bold" font-size="100" stroke="#fff" stroke-width="1.19" stroke-linejoin="round">sample</text>
<text transform="matrix(0.40362 0 0 0.39412 451.421 326.262)" font-family='"Liberation Serif", serif' font-weight="bold" font-size="100" stroke="#fff" stroke-width="1.24" stroke-linejoin="round">120</text>
<text transform="matrix(0.41132 0 0 0.42222 521.016 327.283)" font-family='"Liberation Serif", serif' font-weight="bold" font-size="100" stroke="#fff" stroke-width="1.22" stroke-linejoin="round">g/dm</text>
<text transform="matrix(0.26977 0 0 0.27313 609.871 316.104)" font-family='"Liberation Serif", serif' font-weight="bold" font-size="100" stroke="#fff" stroke-width="1.85" stroke-linejoin="round">3</text>
<text transform="matrix(0.42041 0 0 0.42556 318.489 372.813)" font-family='"Liberation Serif", serif' font-weight="bold" font-size="100" stroke="#fff" stroke-width="1.19" stroke-linejoin="round">sample</text>
<text transform="matrix(0.39225 0 0 0.40000 453.081 371.550)" font-family='"Liberation Serif", serif' font-weight="bold" font-size="100" stroke="#fff" stroke-width="1.27" stroke-linejoin="round">200</text>
<text transform="matrix(0.41132 0 0 0.42222 521.016 372.583)" font-family='"Liberation Serif", serif' font-weight="bold" font-size="100" stroke="#fff" stroke-width="1.22" stroke-linejoin="round">g/dm</text>
<text transform="matrix(0.26977 0 0 0.26866 609.871 361.413)" font-family='"Liberation Serif", serif' font-weight="bold" font-size="100" stroke="#fff" stroke-width="1.85" stroke-linejoin="round">3</text>
</g>
</g>
</svg>
</body></html>
